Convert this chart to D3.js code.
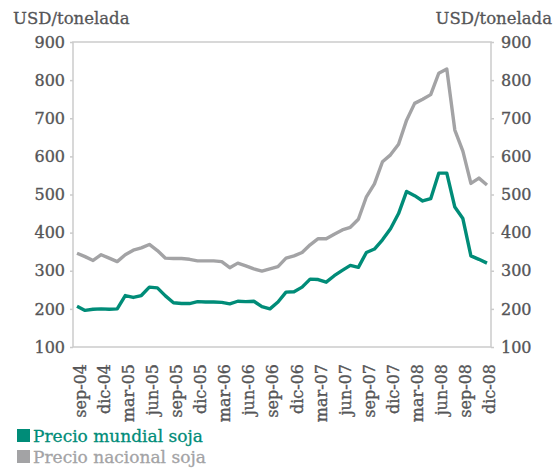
<!DOCTYPE html>
<html>
<head>
<meta charset="utf-8">
<script src="https://cdn.jsdelivr.net/npm/d3@7"></script>
<style>
  body { margin: 0; background: #fff; }
  svg text { font-family: "DejaVu Serif", serif; }
</style>
</head>
<body>
<svg id="chart" width="553" height="470"></svg>
<script>
// months (sep-04 .. dic-08)
const months = [
  "sep-04","oct-04","nov-04","dic-04","ene-05","feb-05","mar-05","abr-05","may-05","jun-05","jul-05","ago-05",
  "sep-05","oct-05","nov-05","dic-05","ene-06","feb-06","mar-06","abr-06","may-06","jun-06","jul-06","ago-06",
  "sep-06","oct-06","nov-06","dic-06","ene-07","feb-07","mar-07","abr-07","may-07","jun-07","jul-07","ago-07",
  "sep-07","oct-07","nov-07","dic-07","ene-08","feb-08","mar-08","abr-08","may-08","jun-08","jul-08","ago-08",
  "sep-08","oct-08","nov-08","dic-08"
];

// Precio mundial soja (USD/t)
const precioMundial = [
  207,196,199,200,199,200,235,230,235,257,255,234,
  216,214,214,219,218,218,217,213,220,219,220,206,
  200,218,244,245,257,278,277,270,287,301,314,309,
  348,357,381,410,450,508,497,483,489,556,556,467,
  437,339,330,320
];

// Precio nacional soja (USD/t)
const precioNacional = [
  346,337,327,342,333,324,342,354,360,369,353,333,
  332,332,330,326,326,326,324,308,320,313,305,299,
  305,311,333,339,348,368,384,384,396,407,414,435,
  494,528,586,604,632,695,739,750,762,818,829,669,
  614,529,543,525
];

const yTicks = [100,200,300,400,500,600,700,800,900];
const legendItems = ["Precio mundial soja", "Precio nacional soja"];

const width = 553, height = 470;
const plot = { left: 73, right: 491, top: 42, bottom: 347 };
const green = "#008c78", grey = "#a3a3a5", textColor = "#555557", axisColor = "#cbcbcb";

const svg = d3.select("#chart");

const x = d3.scalePoint()
    .domain(months)
    .range([plot.left, plot.right])
    .padding(0.5);

const y = d3.scaleLinear()
    .domain([100, 900])
    .range([plot.bottom, plot.top]);

// plot box
svg.append("rect")
    .attr("x", plot.left)
    .attr("y", plot.top)
    .attr("width", plot.right - plot.left)
    .attr("height", plot.bottom - plot.top)
    .attr("fill", "none")
    .attr("stroke", axisColor)
    .attr("stroke-width", 1.5);

// left axis
const yLeft = svg.append("g")
    .attr("transform", "translate(" + plot.left + ",0)")
    .call(d3.axisLeft(y).tickValues(yTicks).tickSize(3).tickPadding(5));
// right axis
const yRight = svg.append("g")
    .attr("transform", "translate(" + plot.right + ",0)")
    .call(d3.axisRight(y).tickValues(yTicks).tickSize(3).tickPadding(7));

[yLeft, yRight].forEach(function (g) {
    g.select(".domain").remove();
    g.selectAll(".tick line").attr("stroke", axisColor).attr("stroke-width", 1.5);
    g.selectAll(".tick text")
        .attr("fill", textColor)
        .attr("stroke", textColor)
        .attr("stroke-width", 0.35)
        .style("font-size", "16px")
        .style("font-family", "DejaVu Serif");
});

// x axis, label every 3 months
const xAxis = svg.append("g")
    .attr("transform", "translate(0," + plot.bottom + ")")
    .call(d3.axisBottom(x)
        .tickValues(months.filter(function (d, i) { return i % 3 === 0; }))
        .tickSize(0));
xAxis.select(".domain").remove();
xAxis.selectAll(".tick text")
    .attr("transform", "rotate(-90)")
    .attr("x", -17)
    .attr("y", 0)
    .attr("dy", "0.5em")
    .attr("text-anchor", "end")
    .attr("fill", textColor)
    .attr("stroke", textColor)
    .attr("stroke-width", 0.35)
    .style("font-size", "16px")
    .style("font-family", "DejaVu Serif");

// axis titles
svg.append("text")
    .attr("x", 13)
    .attr("y", 24)
    .attr("fill", textColor)
    .attr("stroke", textColor)
    .attr("stroke-width", 0.3)
    .style("font-size", "16.5px")
    .text("USD/tonelada");
svg.append("text")
    .attr("x", 552)
    .attr("y", 24)
    .attr("text-anchor", "end")
    .attr("fill", textColor)
    .attr("stroke", textColor)
    .attr("stroke-width", 0.3)
    .style("font-size", "16.5px")
    .text("USD/tonelada");

// lines
const line = d3.line()
    .x(function (d, i) { return x(months[i]); })
    .y(function (d) { return y(d); });

svg.append("path")
    .datum(precioNacional)
    .attr("d", line)
    .attr("fill", "none")
    .attr("stroke", grey)
    .attr("stroke-width", 3.4)
    .attr("stroke-linejoin", "round");

svg.append("path")
    .datum(precioMundial)
    .attr("d", line)
    .attr("fill", "none")
    .attr("stroke", green)
    .attr("stroke-width", 3.4)
    .attr("stroke-linejoin", "round");

// legend
const legend = svg.append("g")
    .selectAll("g")
    .data(legendItems)
    .join("g")
    .attr("transform", function (d, i) { return "translate(17," + (429 + i * 21) + ")"; });

legend.append("rect")
    .attr("width", 13)
    .attr("height", 13)
    .attr("fill", function (d, i) { return i === 0 ? green : grey; });

legend.append("text")
    .attr("x", 16)
    .attr("y", 13)
    .attr("fill", function (d, i) { return i === 0 ? green : grey; })
    .attr("stroke", function (d, i) { return i === 0 ? green : grey; })
    .attr("stroke-width", 0.3)
    .style("font-size", "17px")
    .text(function (d) { return d; });
</script>
</body>
</html>
